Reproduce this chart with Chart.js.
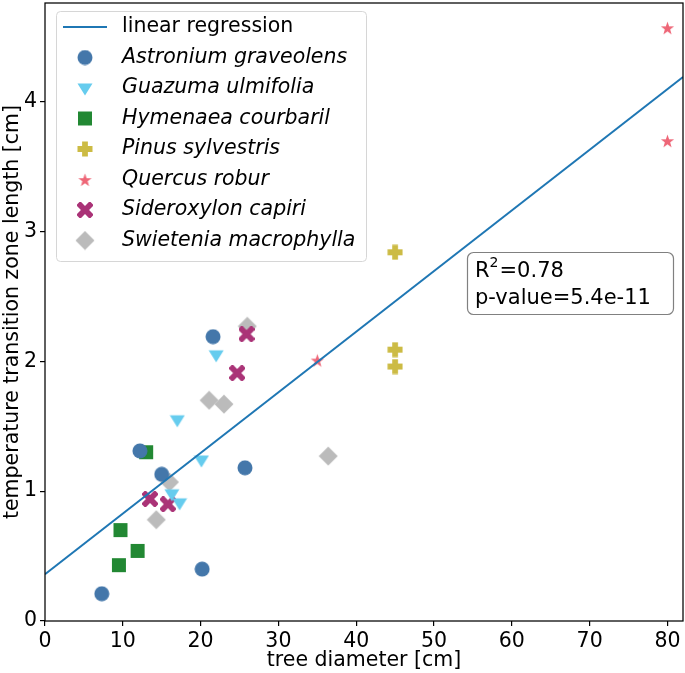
<!DOCTYPE html>
<html>
<head>
<meta charset="utf-8">
<script src="https://cdn.jsdelivr.net/npm/chart.js@4.4.0/dist/chart.umd.min.js"></script>
<style>
  html, body { margin: 0; padding: 0; background: #fff; }
  #wrap { width: 685px; height: 673px; }
</style>
</head>
<body>
<div id="wrap"><canvas id="myChart" width="685" height="673"></canvas></div>
<script>
// tick labels
const xTicks = [0, 10, 20, 30, 40, 50, 60, 70, 80];
const yTicks = [0, 1, 2, 3, 4];

// measured points, tree diameter [cm] vs transition zone length [cm]
const astroniumX = [7.3, 12.2, 15.0, 21.6, 25.7, 20.2];
const astroniumY = [0.21, 1.31, 1.13, 2.19, 1.18, 0.40];
const guazumaX = [22.0, 17.0, 20.1, 16.3, 17.3];
const guazumaY = [2.05, 1.55, 1.24, 0.98, 0.91];
const hymenaeaX = [13.0, 9.7, 11.9, 9.5];
const hymenaeaY = [1.30, 0.70, 0.54, 0.43];
const pinusX = [45, 45, 45];
const pinusY = [2.84, 2.09, 1.96];
const quercusX = [80, 80, 35];
const quercusY = [4.57, 3.70, 2.01];
const sideroxylonX = [25.9, 24.7, 13.5, 15.8];
const sideroxylonY = [2.21, 1.91, 0.94, 0.90];
const swieteniaX = [26.0, 21.1, 23.0, 16.0, 14.3, 36.4];
const swieteniaY = [2.27, 1.70, 1.67, 1.07, 0.78, 1.27];

// regression line end points
const regX = [0, 82];
const regY = [0.36, 4.19];

const statLines = ["R\u00b2=0.78", "p-value=5.4e-11"];

Chart.defaults.font.family = "'DejaVu Sans', sans-serif";
Chart.defaults.color = "#000";

function makeMarker(shape, color, size) {
  const c = document.createElement("canvas");
  c.width = size; c.height = size;
  const g = c.getContext("2d");
  const m = size / 2;
  g.fillStyle = color;
  g.beginPath();
  if (shape === "circle") {
    g.arc(m, m, m - 0.5, 0, Math.PI * 2);
  } else if (shape === "tri") {
    const r = m - 0.5;
    g.moveTo(m - r, m - r * 0.6);
    g.lineTo(m + r, m - r * 0.6);
    g.lineTo(m, m + r);
  } else if (shape === "square") {
    g.rect(1, 1, size - 2, size - 2);
  } else if (shape === "diamond") {
    g.moveTo(m, 0.5); g.lineTo(size - 0.5, m); g.lineTo(m, size - 0.5); g.lineTo(0.5, m);
  } else if (shape === "plus") {
    const a = size * 0.18, b = m - 0.5;
    g.moveTo(m - a, m - b); g.lineTo(m + a, m - b); g.lineTo(m + a, m - a); g.lineTo(m + b, m - a);
    g.lineTo(m + b, m + a); g.lineTo(m + a, m + a); g.lineTo(m + a, m + b); g.lineTo(m - a, m + b);
    g.lineTo(m - a, m + a); g.lineTo(m - b, m + a); g.lineTo(m - b, m - a); g.lineTo(m - a, m - a);
  } else if (shape === "x") {
    g.translate(m, m); g.rotate(Math.PI / 4);
    const a = size * 0.18, b = m * 1.2;
    g.moveTo(-a, -b); g.lineTo(a, -b); g.lineTo(a, -a); g.lineTo(b, -a);
    g.lineTo(b, a); g.lineTo(a, a); g.lineTo(a, b); g.lineTo(-a, b);
    g.lineTo(-a, a); g.lineTo(-b, a); g.lineTo(-b, -a); g.lineTo(-a, -a);
  } else if (shape === "star") {
    const R = m - 0.5, r = R * 0.4;
    for (let i = 0; i < 10; i++) {
      const ang = -Math.PI / 2 + i * Math.PI / 5;
      const rr = i % 2 === 0 ? R : r;
      const px = m + rr * Math.cos(ang), py = m + 1 + rr * Math.sin(ang);
      if (i === 0) g.moveTo(px, py); else g.lineTo(px, py);
    }
  }
  g.closePath();
  g.fill();
  return c;
}

const species = [
  { name: "Astronium graveolens", xs: astroniumX, ys: astroniumY, marker: makeMarker("circle", "#4477aa", 16) },
  { name: "Guazuma ulmifolia", xs: guazumaX, ys: guazumaY, marker: makeMarker("tri", "#66ccee", 16) },
  { name: "Hymenaea courbaril", xs: hymenaeaX, ys: hymenaeaY, marker: makeMarker("square", "#228833", 16) },
  { name: "Pinus sylvestris", xs: pinusX, ys: pinusY, marker: makeMarker("plus", "#ccbb44", 16) },
  { name: "Quercus robur", xs: quercusX, ys: quercusY, marker: makeMarker("star", "#ee6677", 15) },
  { name: "Sideroxylon capiri", xs: sideroxylonX, ys: sideroxylonY, marker: makeMarker("x", "#aa3377", 16) },
  { name: "Swietenia macrophylla", xs: swieteniaX, ys: swieteniaY, marker: makeMarker("diamond", "#bbbbbb", 20) }
];

const datasets = [{
  label: "linear regression",
  data: regX.map((x, i) => ({ x: x, y: regY[i] })),
  showLine: true,
  borderColor: "#1f77b4",
  borderWidth: 2,
  pointRadius: 0,
  fill: false
}];
species.forEach(s => {
  datasets.push({
    label: s.name,
    data: s.xs.map((x, i) => ({ x: x, y: s.ys[i] })),
    pointStyle: s.marker,
    pointRadius: 8,
    showLine: false
  });
});

function roundRect(g, x, y, w, h, r) {
  g.beginPath();
  g.moveTo(x + r, y);
  g.arcTo(x + w, y, x + w, y + h, r);
  g.arcTo(x + w, y + h, x, y + h, r);
  g.arcTo(x, y + h, x, y, r);
  g.arcTo(x, y, x + w, y, r);
  g.closePath();
}

function noPad(s) {
  s.paddingTop = 0; s.paddingBottom = 0; s.paddingLeft = 0; s.paddingRight = 0;
}

const decorations = {
  id: "decorations",
  afterDraw(chart) {
    const g = chart.ctx;
    const a = chart.chartArea;
    g.save();
    // axes frame
    g.strokeStyle = "#000";
    g.lineWidth = 1.25;
    g.strokeRect(a.left, a.top, a.right - a.left, a.bottom - a.top);

    // legend
    g.fillStyle = "rgba(255,255,255,0.8)";
    g.strokeStyle = "#d6d6d6";
    g.lineWidth = 1;
    roundRect(g, 56.5, 11.5, 310, 250, 4);
    g.fill(); g.stroke();
    const rowY = [27, 57.5, 88, 118.5, 149, 179.5, 210, 240.5];
    g.strokeStyle = "#1f77b4";
    g.lineWidth = 2;
    g.beginPath(); g.moveTo(63, rowY[0]); g.lineTo(107, rowY[0]); g.stroke();
    g.fillStyle = "#000";
    g.textBaseline = "middle";
    g.font = "20.5px 'DejaVu Sans'";
    g.fillText("linear regression", 122, rowY[0]);
    g.font = "italic 20.5px 'DejaVu Sans'";
    species.forEach((s, i) => {
      const m = s.marker;
      g.drawImage(m, 85 - m.width / 2, rowY[i + 1] - m.height / 2);
      g.fillText(s.name, 122, rowY[i + 1]);
    });

    // stats box
    g.fillStyle = "#fff";
    g.strokeStyle = "#808080";
    g.lineWidth = 1.2;
    roundRect(g, 467.5, 252.5, 206, 62, 6);
    g.fill(); g.stroke();
    g.fillStyle = "#000";
    g.font = "21px 'DejaVu Sans'";
    g.textBaseline = "alphabetic";
    g.fillText("R", 475, 277);
    const rw = g.measureText("R").width;
    g.font = "14px 'DejaVu Sans'";
    g.fillText("2", 475 + rw, 267);
    const sw = g.measureText("2").width;
    g.font = "21px 'DejaVu Sans'";
    g.fillText("=0.78", 475 + rw + sw + 1, 277);
    g.fillText(statLines[1], 475, 304);
    g.restore();
  }
};

const ctx = document.getElementById("myChart").getContext("2d");
const chart = new Chart(ctx, {
  type: "scatter",
  data: { datasets: datasets },
  options: {
    responsive: false,
    animation: false,
    events: [],
    layout: { autoPadding: false, padding: { top: 3, right: 2, left: 0, bottom: 0 } },
    plugins: { legend: { display: false }, tooltip: { enabled: false } },
    scales: {
      x: {
        type: "linear",
        min: 0,
        max: 82,
        afterBuildTicks: s => { s.ticks = xTicks.map(v => ({ value: v })); },
        afterFit: s => { s.height = 52; noPad(s); },
        border: { display: false },
        grid: { drawOnChartArea: false, drawTicks: true, tickLength: 5, color: "#000", lineWidth: 1.2 },
        ticks: { font: { size: 20.5 }, color: "#000", padding: 3, maxRotation: 0 },
        title: { display: true, text: "tree diameter [cm]", font: { size: 20.5 }, color: "#000", padding: { top: 0, bottom: 0 } }
      },
      y: {
        type: "linear",
        min: 0,
        max: 4.76,
        afterBuildTicks: s => { s.ticks = yTicks.map(v => ({ value: v })); },
        afterFit: s => { s.width = 45; noPad(s); },
        border: { display: false },
        grid: { drawOnChartArea: false, drawTicks: true, tickLength: 5, color: "#000", lineWidth: 1.2 },
        ticks: { font: { size: 20.5 }, color: "#000", padding: 3 },
        title: { display: true, text: "temperature transition zone length [cm]", font: { size: 20.5 }, color: "#000", padding: { top: 0, bottom: 0 } }
      }
    }
  },
  plugins: [decorations]
});
</script>
</body>
</html>
